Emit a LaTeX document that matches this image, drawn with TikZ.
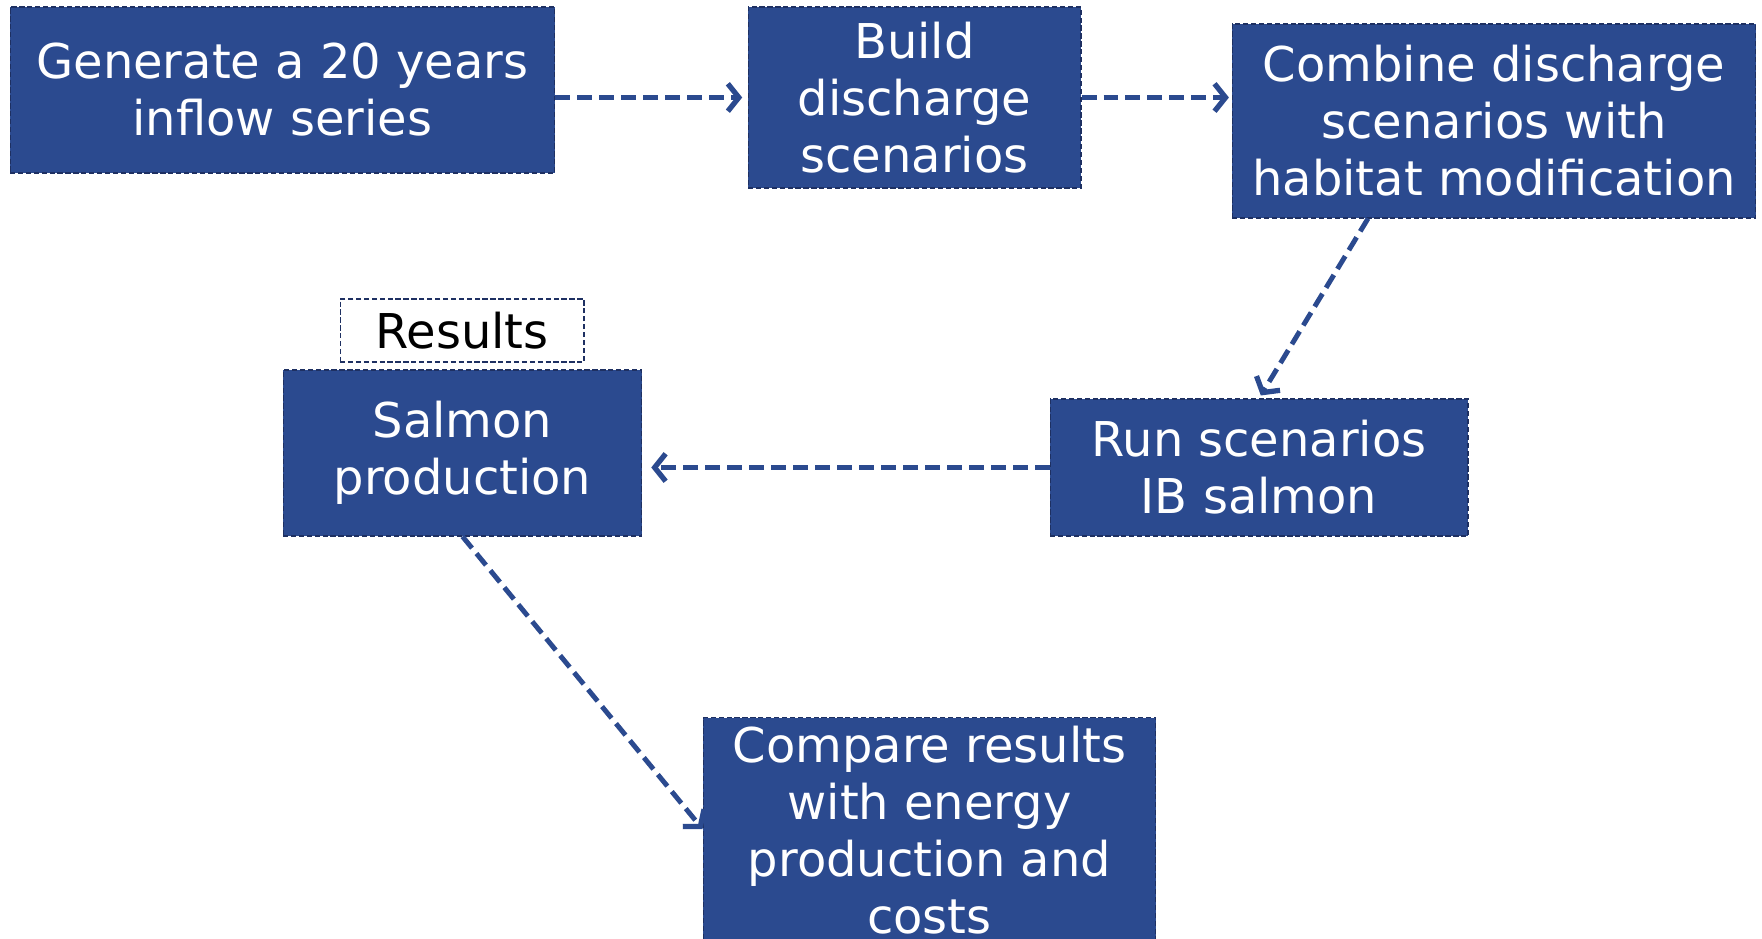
\documentclass[tikz,border=0pt]{standalone}
\usepackage{fontspec}
\setmainfont{DejaVu Sans}
\usepackage{xcolor}
\usetikzlibrary{arrows.meta,calc}
\definecolor{boxblue}{RGB}{43,74,143}
\definecolor{edgeblue}{RGB}{30,48,98}

\tikzset{
    block/.style={draw=edgeblue, fill=boxblue, text=white, dash pattern=on 3pt off 1.5pt,
        line width=0.6pt, align=center, inner sep=0pt,
        font=\fontsize{27.3}{32.4}\selectfont},
    tagbox/.style={block, fill=white, text=black},
    flow/.style={draw=boxblue, line width=2.8pt, dash pattern=on 0.3cm off 0.14cm,
        -{Straight Barb[length=0.22cm, width=0.55cm, line width=3pt]}}
}

\begin{document}
\begin{tikzpicture}[x=0.02cm, y=-0.02cm]
    \useasboundingbox (0,0) rectangle (1762,939);

    % Boxes
    \node[block, minimum width=10.9cm, minimum height=3.32cm] (inflow) at (282.5,90)
        {Generate a 20 years\\inflow series};
    \node[block, minimum width=6.66cm, minimum height=3.62cm] (build) at (914.5,97.5)
        {Build\\discharge\\scenarios};
    \node[block, minimum width=10.48cm, minimum height=3.88cm] (combine) at (1494,121)
        {Combine discharge\\scenarios with\\habitat modification};
    \node[block, minimum width=8.36cm, minimum height=2.74cm] (run) at (1259,467.5)
        {Run scenarios\\IB salmon};
    \node[block, minimum width=7.18cm, minimum height=3.32cm] (salmon) at (462.5,453)
        {Salmon\\production};
    \node[tagbox, minimum width=4.88cm, minimum height=1.26cm] (results) at (462,330.5)
        {Results};
    \node[block, minimum width=9.06cm, minimum height=4.6cm, anchor=north, inner ysep=0.18cm,
        text depth=1.2cm] (compare) at (929.5,717)
        {Compare results\\with energy\\production and\\costs};

    % Arrows
    \draw[flow, shorten >=3pt] (inflow.east |- build.west) -- (build.west);
    \draw[flow, shorten >=1.5pt] (build.east) -- (combine.west |- build.east);
    \draw[flow, shorten >=2pt] ($(combine.south west)!0.26!(combine.south east)$) -- (run.north);
    \draw[flow, shorten >=5pt] (run.west) -- (salmon.east |- run.west);
    \draw[flow] (salmon.south) -- (compare.north west |- 0,829);
\end{tikzpicture}
\end{document}
